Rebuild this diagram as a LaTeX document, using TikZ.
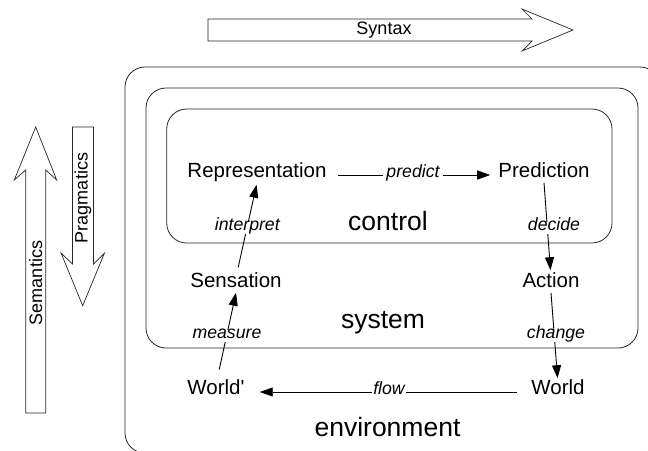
\documentclass[tikz,border=0pt]{standalone}
\usepackage{fontspec}
\setmainfont{Liberation Sans}
\newfontfamily\plainsans{Liberation Sans}
\usetikzlibrary{arrows.meta}
\begin{document}
\begin{tikzpicture}[x=1pt,y=-1pt,
  box/.style={draw=black!85,line width=0.8pt,rounded corners=20pt},
  bigarrow/.style={draw=black!85,line width=0.7pt,fill=white,line join=miter},
  item/.style={font=\fontsize{20.5}{24}\selectfont,inner xsep=8pt,inner ysep=3pt,text height=0.72em,text depth=0.2em},
  area/.style={font=\fontsize{26.5}{30}\selectfont},
  act/.style={font=\fontsize{17.7}{20}\selectfont\itshape,fill=white,inner sep=1.5pt,text height=0.68em,text depth=0.18em},
  flowarrow/.style={draw=black,line width=0.9pt,-{Triangle[length=13pt,width=9pt]}},
  dimlabel/.style={font=\fontsize{18}{20}\selectfont}
]
\useasboundingbox (0,0) rectangle (648,450);
\clip (0,0) rectangle (648,450);

% boxes
\draw[box] (125,67) rectangle (660,453);
\draw[box] (146,88) rectangle (638,348);
\draw[box] (166.7,109) rectangle (612,243);

% big arrows
\draw[bigarrow] (208,19) -- (532,19) -- (522,9) -- (573,30) -- (522,51) -- (532,41) -- (208,41) -- cycle;
\node[dimlabel] (syn) at (384,30) {Syntax};
\draw[bigarrow] (25.7,413) -- (25.7,170) -- (14.3,180) -- (35.7,127) -- (56.7,180) -- (45.7,170) -- (45.7,413) -- cycle;
\node[dimlabel,rotate=90] (sem) at (35.7,283) {Semantics};
\draw[bigarrow] (72.5,127) -- (93.5,127) -- (93.5,264) -- (104.5,253) -- (82.7,305.7) -- (61,253) -- (72.5,264) -- cycle;
\node[dimlabel,rotate=90] (prag) at (83,198) {Pragmatics};

% area labels
\node[area] (ctl) at (388,221) {control};
\node[area] (sys) at (383,323) {system};
\node[area] (env) at (387.5,427.5) {environment};

% items
\node[item] (rep) at (257,175) {Representation};
\node[item] (pred) at (544,175) {Prediction};
\node[item] (sens) at (236,285) {Sensation};
\node[item] (act) at (551,285) {Action};
\node[item] (wp) at (216,392) {{\plainsans World'}};
\node[item] (w) at (558,392) {World};

% connectors
\draw[flowarrow,shorten <=3.5pt] (rep.east) -- (pred.west);
\draw[flowarrow,shorten >=7pt] (pred.south) -- (act.north);
\draw[flowarrow,shorten >=6pt] (act.south) -- (w.north);
\draw[flowarrow,shorten <=6pt,shorten >=7pt] (w.west) -- (wp.east);
\draw[flowarrow,shorten <=15pt] (wp.north) -- (sens.south);
\draw[flowarrow,shorten <=10pt,shorten >=2pt] (sens.north) -- (rep.south);

% connector labels
\node[act,inner xsep=3pt] (lpredict) at (413,175) {predict};
\node[act] (ldecide) at (554,228) {decide};
\node[act] (lchange) at (556,336) {change};
\node[act] (lflow) at (389,392) {flow};
\node[act] (lmeasure) at (227,336) {measure};
\node[act] (linterpret) at (247.3,228) {interpret};
\end{tikzpicture}
\end{document}
